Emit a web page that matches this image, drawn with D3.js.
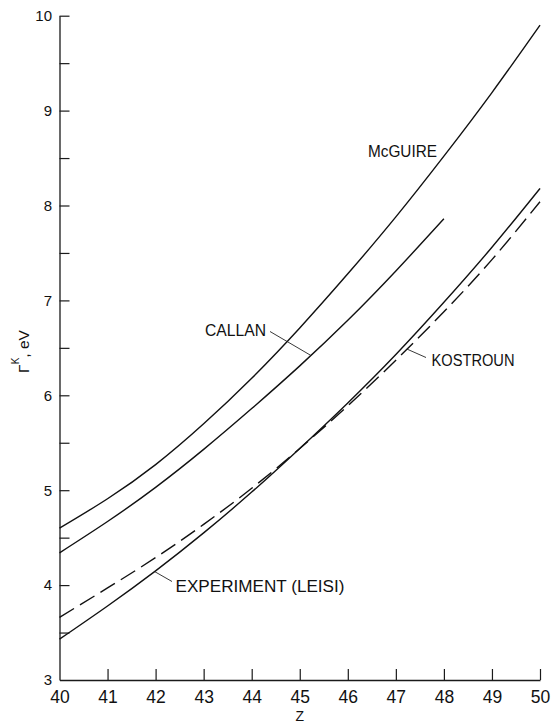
<!DOCTYPE html>
<html>
<head>
<meta charset="utf-8">
<script src="https://cdn.jsdelivr.net/npm/d3@7"></script>
<style>
  html, body { margin: 0; padding: 0; background: #fff; }
  svg { display: block; }
  text { font-family: "Liberation Sans", Arial, Helvetica, sans-serif; fill: #111; }
</style>
</head>
<body>
<svg id="chart" width="553" height="723"></svg>
<script>
// Atomic number Z (x axis)
const zValues = [40, 41, 42, 43, 44, 45, 46, 47, 48, 49, 50];
const zCallan = [40, 41, 42, 43, 44, 45, 46, 47, 48];

// K-shell level width Γ^K in eV
const mcguire    = [4.60, 4.91, 5.27, 5.70, 6.18, 6.71, 7.28, 7.88, 8.52, 9.19, 9.90];
const callan     = [4.34, 4.67, 5.03, 5.43, 5.86, 6.31, 6.79, 7.31, 7.86];
const kostroun   = [3.66, 3.97, 4.29, 4.64, 5.02, 5.44, 5.89, 6.37, 6.88, 7.43, 8.04];
const experiment = [3.43, 3.78, 4.15, 4.55, 4.98, 5.44, 5.92, 6.43, 6.98, 7.56, 8.18];

// Axis ticks
const xTicks = [40, 41, 42, 43, 44, 45, 46, 47, 48, 49, 50];
const yTicks = [3, 3.5, 4, 4.5, 5, 5.5, 6, 6.5, 7, 7.5, 8, 8.5, 9, 9.5, 10];
const yLabels = [3, 4, 5, 6, 7, 8, 9, 10];

const svg = d3.select("#chart");

const x = d3.scaleLinear().domain([40, 50]).range([59.5, 540]);
const y = d3.scaleLinear().domain([3, 10]).range([680, 15.7]);

const ink = "#1a1a1a";

// Left axis: inward ticks, labels only on whole eV
const yAxis = d3.axisLeft(y)
  .tickValues(yTicks)
  .tickSizeInner(-10)
  .tickSizeOuter(0)
  .tickPadding(18)
  .tickFormat(d => yLabels.includes(d) ? String(d) : "");
const gy = svg.append("g").attr("transform", `translate(${x(40)},0)`).call(yAxis);
gy.select(".domain").attr("stroke", ink).attr("stroke-width", 1.3);
gy.selectAll(".tick line").attr("stroke", ink).attr("stroke-width", 1.2)
  .attr("display", d => d === 3 ? "none" : null);
gy.selectAll(".tick text")
  .attr("x", -7.5)
  .attr("font-size", 15)
  .attr("font-family", "Liberation Sans, Arial, sans-serif")
  .attr("fill", "#111");

// Bottom axis: inward ticks
const xAxis = d3.axisBottom(x)
  .tickValues(xTicks)
  .tickSizeInner(-11)
  .tickSizeOuter(0)
  .tickFormat(d3.format("d"));
const gx = svg.append("g").attr("transform", `translate(0,${y(3)})`).call(xAxis);
gx.select(".domain").attr("stroke", ink).attr("stroke-width", 1.3);
gx.selectAll(".tick line").attr("stroke", ink).attr("stroke-width", 1.2)
  .attr("display", d => d === 40 ? "none" : null);
gx.selectAll(".tick text")
  .attr("y", 22.5)
  .attr("dy", 0)
  .attr("font-size", 17.5)
  .attr("font-family", "Liberation Sans, Arial, sans-serif")
  .attr("fill", "#111");

// Axis titles
svg.append("text")
  .attr("x", (x(40) + x(50)) / 2)
  .attr("y", 720.5)
  .attr("text-anchor", "middle")
  .attr("font-size", 14)
  .text("Z");

const yTitle = svg.append("text")
  .attr("transform", "translate(29.3,351.5) rotate(-90)")
  .attr("text-anchor", "middle")
  .attr("font-size", 15.5);
yTitle.append("tspan").text("Γ");
yTitle.append("tspan").attr("font-size", 10).attr("dy", -10).text("K");
yTitle.append("tspan").attr("dy", 10).text(", eV");

// Curves
const line = d3.line()
  .x(d => x(d[0]))
  .y(d => y(d[1]))
  .curve(d3.curveNatural);

const series = [
  { key: "mcguire",    z: zValues, v: mcguire,    dash: null },
  { key: "callan",     z: zCallan, v: callan,     dash: null },
  { key: "experiment", z: zValues, v: experiment, dash: null },
  { key: "kostroun",   z: zValues, v: kostroun,   dash: "17,7" }
];

svg.append("g").selectAll("path")
  .data(series)
  .join("path")
  .attr("d", s => line(s.z.map((z, i) => [z, s.v[i]])))
  .attr("fill", "none")
  .attr("stroke", "#111")
  .attr("stroke-width", 1.4)
  .attr("stroke-dasharray", s => s.dash);

// Value of a series at an arbitrary Z, for placing leader lines on the curves
function valueAt(s, z) {
  const i = Math.max(1, Math.min(s.z.length - 1, d3.bisectLeft(s.z, z)));
  const z0 = s.z[i - 1], z1 = s.z[i];
  const t = (z - z0) / (z1 - z0);
  return s.v[i - 1] + t * (s.v[i] - s.v[i - 1]);
}

// Curve labels; leader lines run from the label to the curve
const bySeries = Object.fromEntries(series.map(s => [s.key, s]));
const labels = [
  { key: "mcguire",    text: "McGUIRE",            tx: 368,   ty: 157,   len: 69,  leader: null },
  { key: "callan",     text: "CALLAN",             tx: 205,   ty: 336,   len: 61,  leader: { z: 45.23, fx: 270, fy: 331.5 } },
  { key: "kostroun",   text: "KOSTROUN",           tx: 431.5, ty: 365.5, len: 83,  leader: { z: 47.23, fx: 426, fy: 357.5 } },
  { key: "experiment", text: "EXPERIMENT (LEISI)", tx: 175.5, ty: 591.7, len: 169, leader: { z: 41.98, fx: 172, fy: 581.5 } }
];

const lg = svg.append("g");
labels.forEach(l => {
  lg.append("text")
    .attr("x", l.tx)
    .attr("y", l.ty)
    .attr("font-size", 16)
    .attr("textLength", l.len)
    .attr("lengthAdjust", "spacingAndGlyphs")
    .text(l.text);
  if (l.leader) {
    const s = bySeries[l.key];
    lg.append("line")
      .attr("x1", l.leader.fx)
      .attr("y1", l.leader.fy)
      .attr("x2", x(l.leader.z))
      .attr("y2", y(valueAt(s, l.leader.z)))
      .attr("stroke", "#222")
      .attr("stroke-width", 0.9);
  }
});
</script>
</body>
</html>
